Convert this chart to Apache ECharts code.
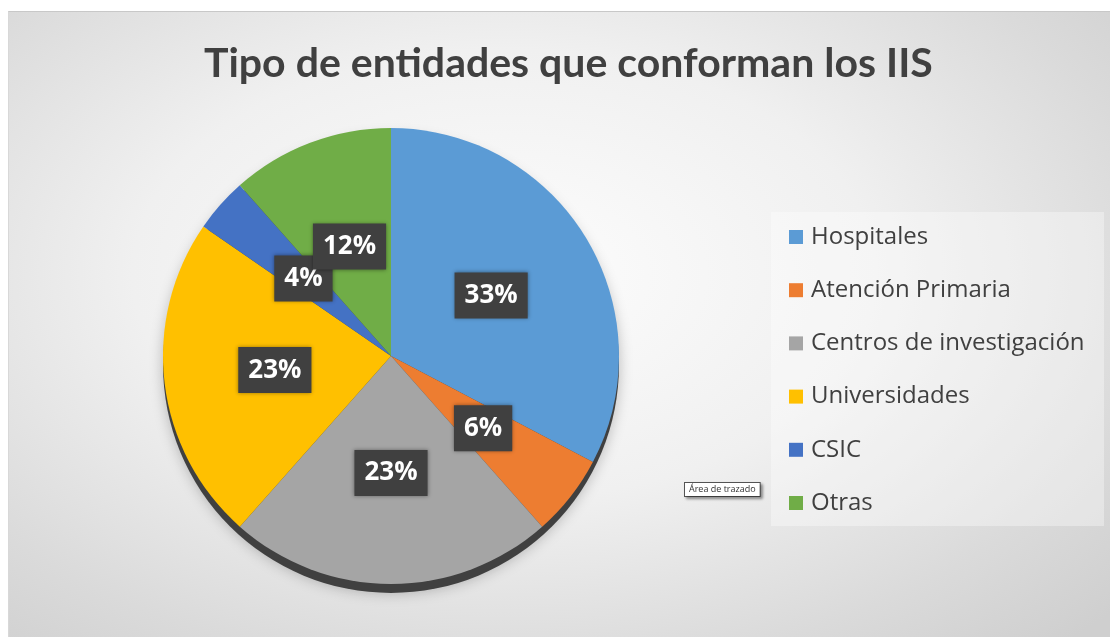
<!DOCTYPE html>
<html>
<head>
<meta charset="utf-8">
<title>Tipo de entidades que conforman los IIS</title>
<script src="https://cdn.jsdelivr.net/npm/echarts@6/dist/echarts.min.js"></script>
<style type="text/css">
	html, body {
		margin: 0;
		padding: 0;
		background: #fff;
		width: 1110px;
		height: 637px;
		overflow: hidden;
	}
	#pie_chart {
		position: absolute;
		left: 8px;
		top: 11px;
		width: 1102px;
		height: 626px;
		border-top: 1px solid #c8c8c8;
		border-left: 1px solid #d8d8d8;
		box-sizing: border-box;
		background: radial-gradient(ellipse 75% 80% at 45% 42%, #fdfdfd 0%, #f0f0f0 45%, #dadada 80%, #cfcfcf 100%);
	}
</style>
</head>
<body>
<div id="pie_chart"></div>
<script type="text/javascript">
// datos
var categorias = ['Hospitales', 'Atención Primaria', 'Centros de investigación', 'Universidades', 'CSIC', 'Otras'];
var valores = [17, 3, 12, 12, 2, 6];
var colores = ['#5B9BD5', '#ED7D31', '#A5A5A5', '#FFC000', '#4472C4', '#70AD47'];

var myChart = echarts.init(document.getElementById('pie_chart'));

var datos = [];
for (var i = 0; i < categorias.length; i++) {
	datos.push({ name: categorias[i], value: valores[i], itemStyle: { color: colores[i] } });
}

var centro = [382, 344];
var radio = 228;

var option = {
	animation: false,
	title: {
		text: 'Tipo de entidades que conforman los IIS',
		left: 190,
		top: 26,
		textStyle: {
			fontFamily: 'Lato',
			fontWeight: 'bold',
			fontSize: 41,
			color: '#404040'
		}
	},
	legend: {
		orient: 'vertical',
		left: 780,
		top: 211,
		padding: 0,
		itemGap: 25.2,
		itemWidth: 14,
		itemHeight: 14,
		icon: 'rect',
		data: categorias,
		textStyle: {
			fontFamily: 'Open Sans',
			fontSize: 24,
			lineHeight: 28,
			color: '#404040',
			padding: [0, 0, 0, 3]
		}
	},
	graphic: [
		{
			type: 'rect',
			silent: true,
			z: -1,
			shape: { x: 762, y: 200, width: 333, height: 314 },
			style: { fill: 'rgba(255,255,255,0.35)' }
		},
		{
			type: 'text',
			silent: true,
			left: 675,
			top: 470,
			style: {
				text: 'Área de trazado',
				fontFamily: 'Open Sans',
				fontSize: 9,
				fill: '#333',
				backgroundColor: '#fff',
				borderColor: '#555',
				borderWidth: 1,
				padding: [2, 4],
				shadowColor: 'rgba(0,0,0,0.35)',
				shadowBlur: 3,
				shadowOffsetX: 2,
				shadowOffsetY: 2
			}
		}
	],
	series: [
		{
			// sombra inferior del pastel
			name: 'sombra',
			type: 'pie',
			silent: true,
			center: [centro[0], centro[1] + 9],
			radius: radio,
			label: { show: false },
			labelLine: { show: false },
			itemStyle: {
				color: '#404040',
				shadowColor: 'rgba(0,0,0,0.25)',
				shadowBlur: 14
			},
			data: [{ name: '', value: 1 }]
		},
		{
			name: 'Tipo de entidades',
			type: 'pie',
			center: centro,
			radius: radio,
			startAngle: 90,
			clockwise: true,
			data: datos,
			itemStyle: {
				borderWidth: 0
			},
			label: {
				show: true,
				position: 'inside',
				formatter: function (p) {
					return Math.round(p.percent) + '%';
				},
				fontFamily: 'Open Sans',
				fontWeight: 'bold',
				fontSize: 26,
				lineHeight: 30,
				color: '#fff',
				backgroundColor: '#404040',
				padding: [8, 10],
				shadowColor: 'rgba(0,0,0,0.4)',
				shadowBlur: 4
			},
			labelLayout: { hideOverlap: false },
			labelLine: { show: false },
			emphasis: { disabled: true }
		}
	]
};

myChart.setOption(option);
</script>
</body>
</html>
